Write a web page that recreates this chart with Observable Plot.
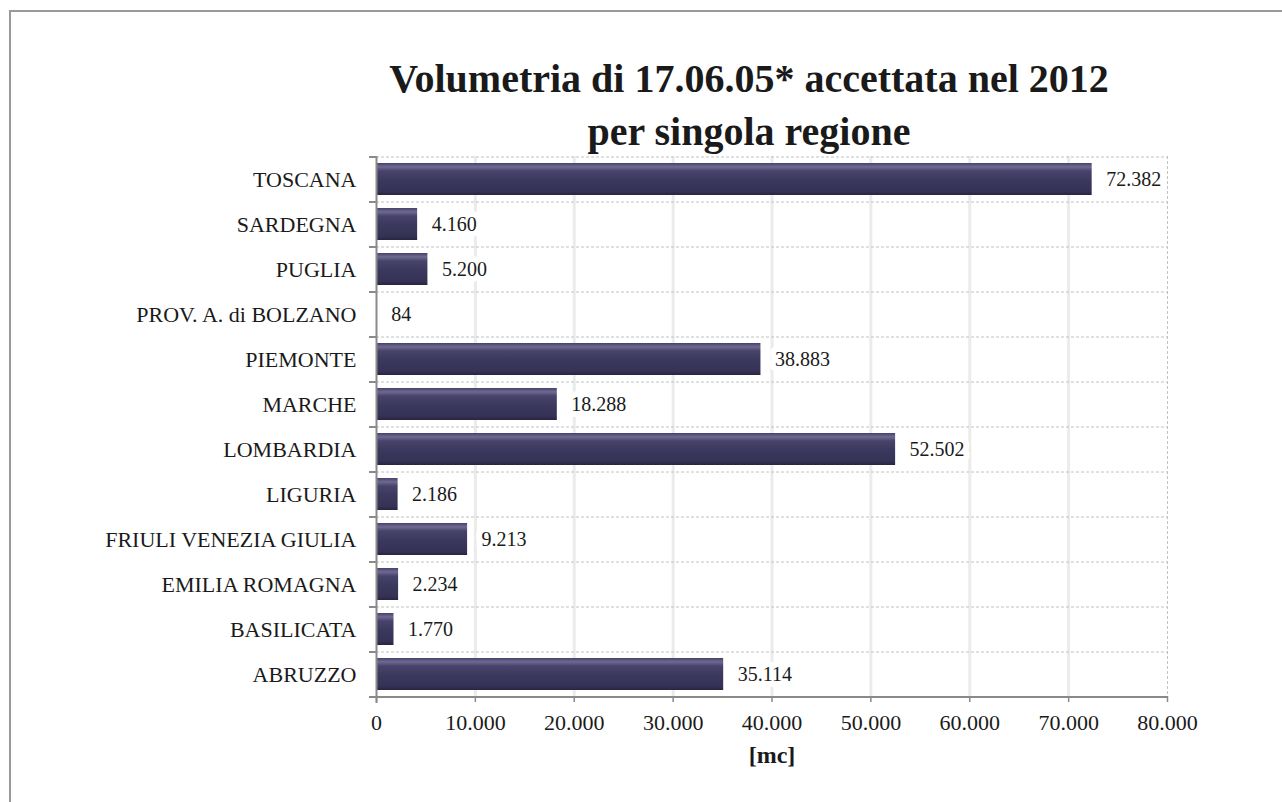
<!DOCTYPE html>
<html>
<head>
<meta charset="utf-8">
<script src="https://cdn.jsdelivr.net/npm/d3@7"></script>
<script src="https://cdn.jsdelivr.net/npm/@observablehq/plot@0.6"></script>
<style>
  body { margin: 0; background: #fff; }
  #wrap { position: relative; width: 1282px; height: 802px; overflow: hidden; font-family: "Liberation Serif", "Times New Roman", serif; }
  #frame { position: absolute; left: 9px; top: 10px; width: 1400px; height: 900px; border-top: 2px solid #9a9a9a; border-left: 2px solid #9a9a9a; }
  #title { position: absolute; left: 0; top: 52px; width: 1498px; text-align: center; font-weight: bold; font-size: 40px; line-height: 53px; color: #1a1a1a; z-index: 2; }
  #chart { position: absolute; left: 0; top: 0; }
</style>
</head>
<body>
<div id="wrap">
  <div id="frame"></div>
  <div id="title">Volumetria di 17.06.05* accettata nel 2012<br>per singola regione</div>
  <div id="chart"></div>
</div>
<script>
// ---- data ----
const regions = ["TOSCANA", "SARDEGNA", "PUGLIA", "PROV. A. di BOLZANO", "PIEMONTE", "MARCHE",
  "LOMBARDIA", "LIGURIA", "FRIULI VENEZIA GIULIA", "EMILIA ROMAGNA", "BASILICATA", "ABRUZZO"];
const volumes = [72382, 4160, 5200, 84, 38883, 18288, 52502, 2186, 9213, 2234, 1770, 35114];
const xTicks = [0, 10000, 20000, 30000, 40000, 50000, 60000, 70000, 80000];
const gridValues = [10000, 20000, 30000, 40000, 50000, 60000, 70000];
const axisTitle = "[mc]";

const data = regions.map((r, i) => ({region: r, value: volumes[i]}));
const it = d3.formatLocale({decimal: ",", thousands: ".", grouping: [3], currency: ["", " €"]});
const fmt = it.format(",d");
const half = 22.5; // half of a row step (px)
const axisColor = "#8a8a8a";

const plot = Plot.plot({
  width: 1282,
  height: 802,
  marginLeft: 376,
  marginRight: 115,
  marginTop: 156,
  marginBottom: 106,
  style: {fontFamily: "'Liberation Serif', 'Times New Roman', serif", fontSize: "22px", color: "#1a1a1a", background: "transparent"},
  x: {domain: [0, 80000]},
  y: {domain: regions, paddingInner: 0.29, paddingOuter: 0.145},
  marks: [
    Plot.ruleX(gridValues, {stroke: "#ebebeb", strokeWidth: 3}),
    Plot.ruleY(regions, {y: d => d, dy: -half, stroke: "#c2c2c2", strokeDasharray: "3,2", strokeWidth: 1}),
    Plot.ruleX([80000], {stroke: "#c2c2c2", strokeDasharray: "3,2", strokeWidth: 1}),
    Plot.barX(data, {x: "value", y: "region", fill: "url(#barGrad)"}),
    Plot.text(data, {x: "value", y: "region", text: d => fmt(d.value), textAnchor: "start", dx: 14,
      fontSize: 20, fill: "#1a1a1a", stroke: "white", strokeWidth: 12, paintOrder: "stroke"}),
    Plot.axisY({tickSize: 0, tickPadding: 20, fill: "#1a1a1a", label: null}),
    Plot.ruleY(regions, {y: d => d, dy: -half, x1: 0, x2: 0, insetLeft: -7, stroke: axisColor, strokeWidth: 2}),
    Plot.axisX({ticks: xTicks, tickFormat: fmt, tickSize: 6, tickPadding: 12, stroke: axisColor, strokeWidth: 1.5, fill: "#1a1a1a", label: null}),
    Plot.ruleY([regions[regions.length - 1]], {y: d => d, dy: half, x1: 0, x2: 80000, insetLeft: -7, stroke: axisColor, strokeWidth: 2}),
    Plot.ruleX([0], {stroke: axisColor, strokeWidth: 2, insetBottom: -7}),
    Plot.text([axisTitle], {frameAnchor: "bottom", dy: 66, text: d => d, fontWeight: "bold", fontSize: 24, fill: "#1a1a1a"})
  ]
});

const ns = "http://www.w3.org/2000/svg";
const defs = document.createElementNS(ns, "defs");
defs.innerHTML = `
  <linearGradient id="barGrad" x1="0" y1="0" x2="0" y2="1">
    <stop offset="0" stop-color="#45416a"/>
    <stop offset="0.12" stop-color="#6e6a92"/>
    <stop offset="0.25" stop-color="#47436b"/>
    <stop offset="0.55" stop-color="#3b385d"/>
    <stop offset="0.88" stop-color="#353256"/>
    <stop offset="1" stop-color="#27253f"/>
  </linearGradient>`;
plot.insertBefore(defs, plot.firstChild);
document.getElementById("chart").appendChild(plot);
</script>
</body>
</html>
